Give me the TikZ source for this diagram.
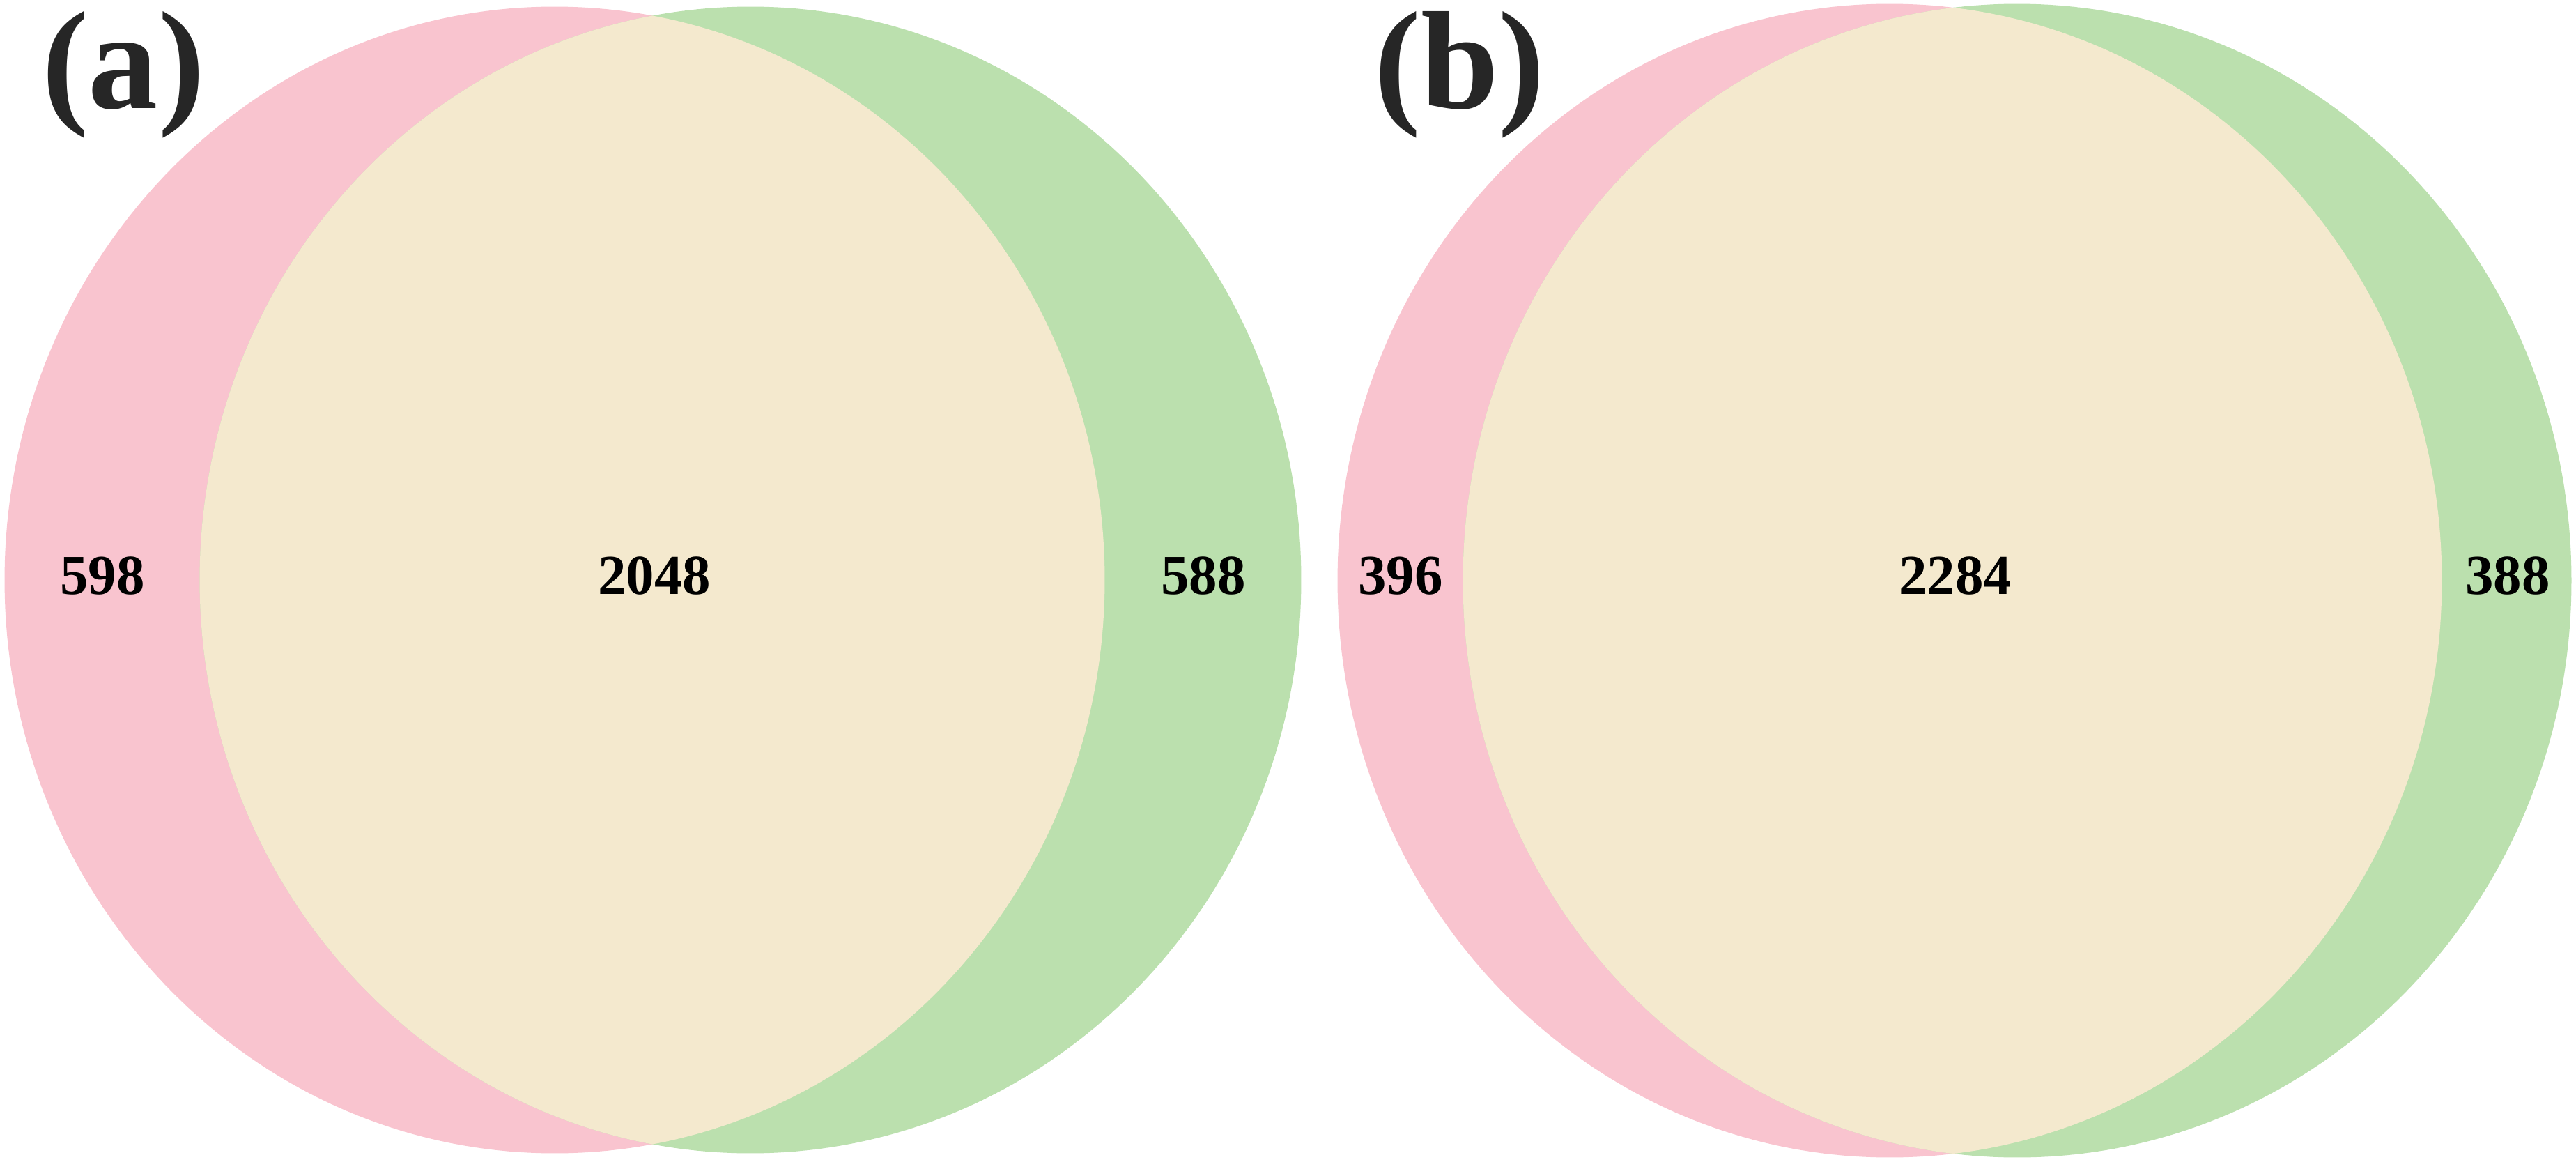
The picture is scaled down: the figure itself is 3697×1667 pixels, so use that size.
\documentclass[tikz,border=0pt]{standalone}
\usepackage{fontspec}
\setmainfont{Liberation Serif}[BoldFont={Liberation Serif Bold}]
\definecolor{vpink}{RGB}{249,196,207}
\definecolor{vgreen}{RGB}{187,224,174}
\definecolor{vbeige}{RGB}{244,233,206}
\definecolor{lblgray}{RGB}{38,38,38}
\begin{document}
\begin{tikzpicture}[x=0.01cm,y=-0.01cm,
  count/.style={font=\fontsize{23}{23}\selectfont\bfseries, text=black, inner sep=0pt},
  panel/.style={font=\fontsize{57}{57}\selectfont\bfseries, text=lblgray, inner sep=0pt}]
\useasboundingbox (0,0) rectangle (3697,1667);
% panel (a)
\fill[vpink] (796,832) ellipse [x radius=7.89cm, y radius=8.22cm];
\fill[vgreen] (1077,832) ellipse [x radius=7.90cm, y radius=8.22cm];
\begin{scope}
  \clip (796,832) ellipse [x radius=7.89cm, y radius=8.22cm];
  \fill[vbeige] (1077,832) ellipse [x radius=7.90cm, y radius=8.22cm];
\end{scope}
% panel (b)
\fill[vpink] (2712,833) ellipse [x radius=7.92cm, y radius=8.27cm];
\fill[vgreen] (2895,833) ellipse [x radius=7.95cm, y radius=8.27cm];
\begin{scope}
  \clip (2712,833) ellipse [x radius=7.92cm, y radius=8.27cm];
  \fill[vbeige] (2895,833) ellipse [x radius=7.95cm, y radius=8.27cm];
\end{scope}
% counts
\node[count] (a1) at (147,826) {598};
\node[count] (a2) at (939,826) {2048};
\node[count] (a3) at (1727,826) {588};
\node[count] (b1) at (2010,826) {396};
\node[count] (b2) at (2806,826) {2284};
\node[count] (b3) at (3599,826) {388};
% panel labels
\node[panel] (la) at (177,107) {(a)};
\node[panel] (lb) at (2095,107) {(b)};
\end{tikzpicture}
\end{document}
